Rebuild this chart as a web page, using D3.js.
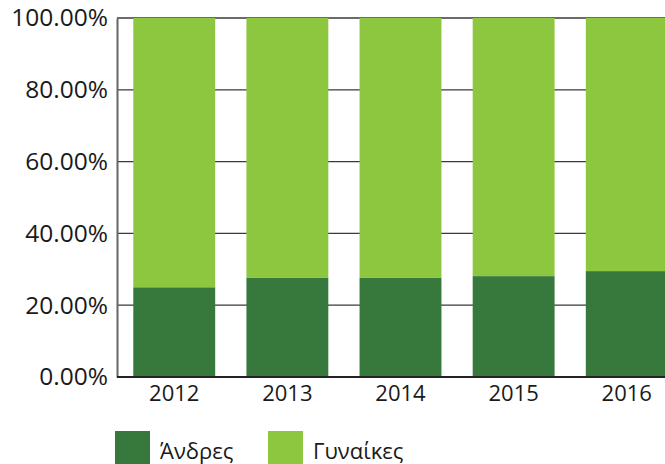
<!DOCTYPE html>
<html>
<head>
<meta charset="utf-8">
<script src="https://cdn.jsdelivr.net/npm/d3@7"></script>
<style>
  body { margin: 0; background: #fff; }
</style>
</head>
<body>
<svg class="chart"></svg>
<script>
var years = ['2012', '2013', '2014', '2015', '2016'];
var men = [25.0, 27.6, 27.6, 28.1, 29.5];
var women = [75.0, 72.4, 72.4, 71.9, 70.5];
var seriesNames = ['Άνδρες', 'Γυναίκες'];
var seriesColors = ['#37793d', '#8dc63f'];
var yTicks = [0, 20, 40, 60, 80, 100];

var width = 665;
var height = 464;
var font = '"Open Sans", "Noto Sans", sans-serif';
var chart = d3.select('.chart');
chart.attr('width', width).attr('height', height);

var plotLeft = 117, plotTop = 18, plotBottom = 377;

var rows = years.map((yr, i) => ({ year: yr, men: men[i], women: women[i] }));
var stack = d3.stack().keys(['men', 'women'])(rows);

var x = d3.scaleBand()
  .domain(years)
  .range([plotLeft, 684])
  .paddingInner(0.276)
  .paddingOuter(0.144);

var y = d3.scaleLinear().domain([0, 100]).range([plotBottom, plotTop]);

// gridlines
chart.append('g')
  .selectAll('line')
  .data(yTicks.filter(d => d > 0))
  .enter().append('line')
  .attr('x1', plotLeft).attr('x2', width)
  .attr('y1', d => y(d)).attr('y2', d => y(d))
  .attr('stroke', '#3a3a3a')
  .attr('stroke-width', 1.3);

// bars
chart.append('g')
  .selectAll('g')
  .data(stack)
  .enter().append('g')
  .attr('fill', (d, i) => seriesColors[i])
  .selectAll('rect')
  .data(d => d)
  .enter().append('rect')
  .attr('x', d => x(d.data.year))
  .attr('width', x.bandwidth())
  .attr('y', d => y(d[1]))
  .attr('height', d => y(d[0]) - y(d[1]));

// y axis
var yAxis = d3.axisLeft(y)
  .tickValues(yTicks)
  .tickFormat(d => d.toFixed(2) + '%')
  .tickSize(0)
  .tickPadding(9);
var yg = chart.append('g').attr('transform', 'translate(' + plotLeft + ',0)').call(yAxis);
yg.select('.domain').attr('stroke', '#666').attr('stroke-width', 2);
yg.selectAll('text').attr('font-size', 24.5).attr('font-family', font).attr('fill', '#1a1a1a');

// x axis
var xAxis = d3.axisBottom(x).tickSize(0).tickPadding(8);
var xg = chart.append('g').attr('transform', 'translate(0,' + plotBottom + ')').call(xAxis);
xg.select('.domain').attr('d', 'M' + plotLeft + ',0H' + width).attr('stroke', '#222').attr('stroke-width', 2);
xg.selectAll('text').attr('font-size', 22).attr('font-family', font).attr('fill', '#1a1a1a');

// legend
var legend = chart.append('g');
var lx = [115, 268];
seriesNames.forEach((name, i) => {
  legend.append('rect')
    .attr('x', lx[i]).attr('y', 431)
    .attr('width', 35).attr('height', 33)
    .attr('fill', seriesColors[i]);
  legend.append('text')
    .attr('x', lx[i] + 45).attr('y', 459)
    .attr('font-size', 22)
    .attr('font-family', font)
    .attr('fill', '#1a1a1a')
    .text(name);
});
</script>
</body>
</html>
